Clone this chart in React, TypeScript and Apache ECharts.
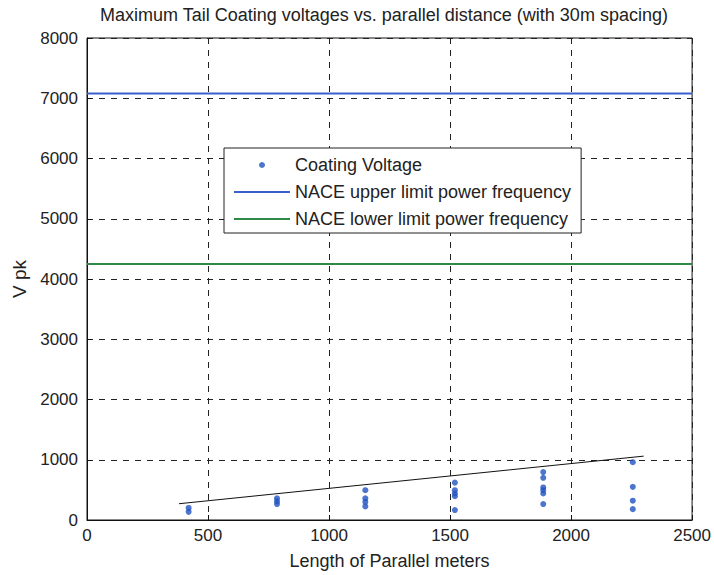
import React, { useEffect, useRef } from "react";
import * as echarts from "echarts";

const titleText = "Maximum Tail Coating voltages vs. parallel distance (with 30m spacing)";
const xAxisName = "Length of Parallel meters";
const yAxisName = "V pk";
const legendNames = ["Coating Voltage", "NACE upper limit power frequency", "NACE lower limit power frequency"];

const clusterX = [420, 785, 1150, 1520, 1885, 2255];
const clusterValues = [
  [200, 135],
  [360, 310, 265],
  [495, 360, 300, 225],
  [620, 495, 440, 395, 165],
  [795, 700, 540, 495, 440, 265],
  [960, 550, 320, 180],
];
const upperLimit = 7080;
const lowerLimit = 4250;
const limitX = [0, 2500];
const trendX = [380, 2300];
const trendY = [270, 1060];

const FONT = "'Liberation Sans', Arial, sans-serif";
const BLUE = "#3a5fcd";
const GREEN = "#2f8a45";
const LINE_ICON = "path://M0 0H56V2H0Z";

export default function App() {
  const ref = useRef<HTMLDivElement>(null);
  useEffect(() => {
    if (!ref.current) return;
    const chart = echarts.init(ref.current, null, { renderer: "svg" });
    const scatterData: number[][] = [];
    clusterX.forEach((x, i) => clusterValues[i].forEach((v) => scatterData.push([x, v])));
    chart.setOption({
      animation: false,
      backgroundColor: "#ffffff",
      textStyle: { fontFamily: FONT },
      title: {
        text: titleText,
        left: 95,
        top: 1,
        textStyle: { fontSize: 18, fontWeight: "normal", color: "#222", fontFamily: FONT },
      },
      legend: {
        orient: "vertical",
        left: 224,
        top: 148,
        padding: [8, 10, 5, 10],
        itemWidth: 56,
        itemHeight: 6,
        itemGap: 9,
        borderColor: "#222",
        borderWidth: 1,
        backgroundColor: "#fff",
        textStyle: { fontSize: 18, color: "#222", fontFamily: FONT },
        data: [
          { name: legendNames[0], icon: "circle" },
          { name: legendNames[1], icon: LINE_ICON, itemStyle: { color: BLUE } },
          { name: legendNames[2], icon: LINE_ICON, itemStyle: { color: GREEN } },
        ],
      },
      grid: {
        left: 87,
        right: 21,
        top: 38,
        bottom: 52,
        show: true,
        borderColor: "#111",
        borderWidth: 1,
        backgroundColor: "transparent",
      },
      xAxis: {
        type: "value",
        min: 0,
        max: 2500,
        interval: 500,
        name: xAxisName,
        nameLocation: "middle",
        nameGap: 32,
        nameTextStyle: { fontSize: 18, color: "#222", fontFamily: FONT },
        axisLine: { show: true, lineStyle: { color: "#111", width: 1 } },
        axisTick: { show: true, inside: true, length: 5, lineStyle: { color: "#111" } },
        axisLabel: { fontSize: 17, color: "#222", margin: 7, fontFamily: FONT, formatter: (v: number) => String(v) },
        splitLine: { show: true, lineStyle: { color: "#222", type: [6, 6], width: 1 } },
      },
      yAxis: {
        type: "value",
        min: 0,
        max: 8000,
        interval: 1000,
        name: yAxisName,
        nameLocation: "middle",
        nameGap: 58,
        nameRotate: 90,
        nameTextStyle: { fontSize: 19, color: "#222", fontFamily: FONT },
        axisLine: { show: true, lineStyle: { color: "#111", width: 1 } },
        axisTick: { show: true, inside: true, length: 5, lineStyle: { color: "#111" } },
        axisLabel: { fontSize: 17, color: "#222", margin: 9, fontFamily: FONT, formatter: (v: number) => String(v) },
        splitLine: { show: true, lineStyle: { color: "#222", type: [6, 6], width: 1 } },
      },
      series: [
        {
          name: legendNames[0],
          type: "scatter",
          data: scatterData,
          symbol: "circle",
          symbolSize: 6,
          itemStyle: { color: "#2152c0" },
          z: 5,
        },
        {
          name: legendNames[1],
          type: "line",
          data: limitX.map((x) => [x, upperLimit]),
          showSymbol: false,
          symbol: "none",
          itemStyle: { color: BLUE },
          lineStyle: { color: BLUE, width: 2 },
        },
        {
          name: legendNames[2],
          type: "line",
          data: limitX.map((x) => [x, lowerLimit]),
          showSymbol: false,
          symbol: "none",
          itemStyle: { color: GREEN },
          lineStyle: { color: GREEN, width: 2 },
        },
        {
          name: "trend",
          type: "line",
          data: trendX.map((x, i) => [x, trendY[i]]),
          showSymbol: false,
          symbol: "none",
          lineStyle: { color: "#111", width: 1 },
        },
      ],
    });
    return () => chart.dispose();
  }, []);
  return <div ref={ref} style={{ width: 714, height: 575, position: "absolute", left: 0, top: 0 }} />;
}
